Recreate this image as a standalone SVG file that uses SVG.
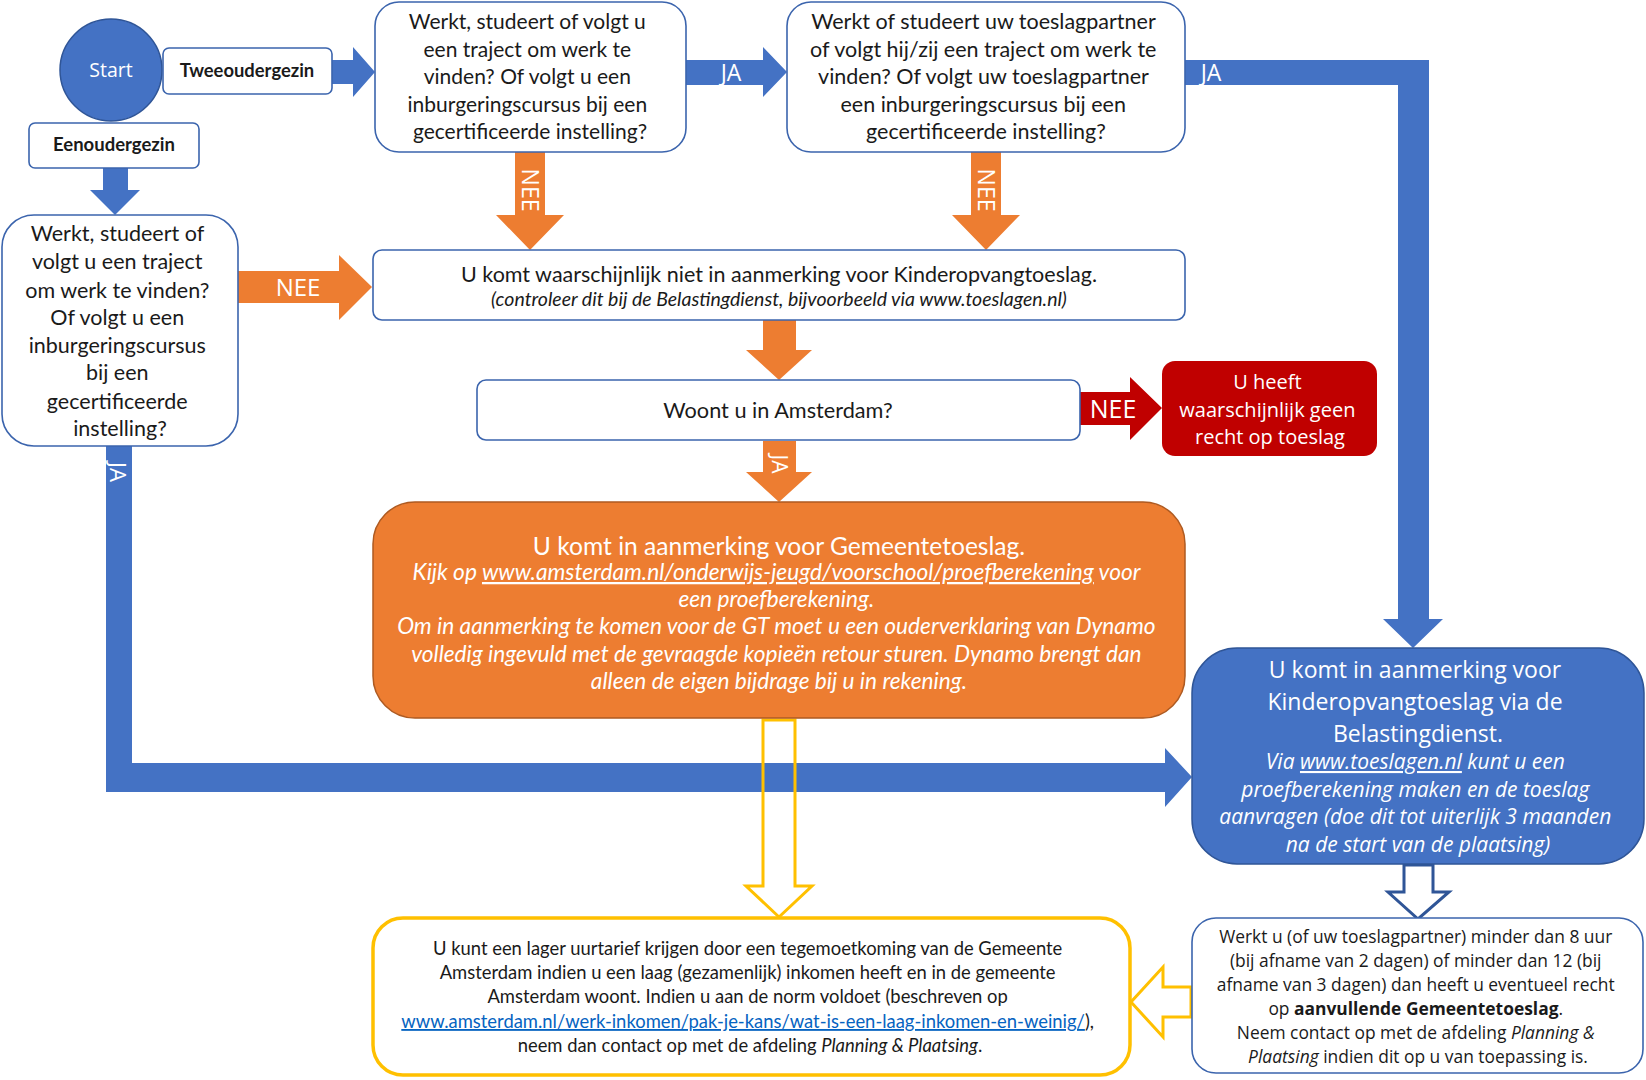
<svg xmlns="http://www.w3.org/2000/svg" width="1646" height="1080" viewBox="0 0 1646 1080">
<style>
.cal{font-family:Lato,"Liberation Sans",sans-serif;}
.seg{font-family:"Open Sans","DejaVu Sans",sans-serif;}
.dk{fill:#1a1a1a;}
.wh{fill:#ffffff;}
.box{fill:#ffffff;stroke:#3b64ad;stroke-width:1.6;}
.blue{fill:#4472C4;}
.orange{fill:#ED7D31;}
.c{text-anchor:middle;}
.it{font-style:italic;}
.b{font-weight:bold;}
.u{text-decoration:underline;}
</style>
<rect width="1646" height="1080" fill="#ffffff"/>

<g id="connectors">
  <polygon id="a-twee" class="blue" points="332,60 353,60 353,47 375,72 353,97 353,84 332,84"/>
  <polygon id="a-ja1" class="blue" points="686,60 763,60 763,47 787,72 763,97 763,85 686,85"/>
  <text class="seg wh c" x="731" y="81" font-size="23">JA</text>
  <path id="a-ja2" class="blue" d="M1185,60 H1429 V619 H1443 L1413,648 L1383,619 H1398 V85 H1185 Z"/>
  <text class="seg wh c" x="1211" y="81" font-size="23">JA</text>
  <polygon id="a-een" class="blue" points="103,168 128,168 128,190 140,190 115,215 90,190 103,190"/>
  <polygon id="a-nee1" class="orange" points="515,152 545,152 545,215 564,215 530,250 496,215 515,215"/>
  <text class="seg wh c" font-size="23" transform="translate(530,190) rotate(90)" y="8">NEE</text>
  <polygon id="a-nee2" class="orange" points="971,152 1001,152 1001,215 1020,215 986,250 952,215 971,215"/>
  <text class="seg wh c" font-size="23" transform="translate(986,190) rotate(90)" y="8">NEE</text>
  <polygon id="a-nee3" class="orange" points="238,271 339,271 339,255 372,287 339,320 339,303 238,303"/>
  <text class="seg wh c" x="298" y="296" font-size="24">NEE</text>
  <polygon id="a-down1" class="orange" points="763,320 796,320 796,350 812,350 779,380 746,350 763,350"/>
  <polygon id="a-nee4" fill="#C00000" points="1080,392 1130,392 1130,377 1162,408 1130,440 1130,425 1080,425"/>
  <text class="seg wh c" x="1113" y="418" font-size="25">NEE</text>
  <polygon id="a-ja3" class="orange" points="763,441 796,441 796,472 812,472 779,502 746,472 763,472"/>
  <text class="seg wh c" font-size="21" transform="translate(779,464) rotate(90)" y="7.5">JA</text>
  <path id="a-ja4" class="blue" d="M106,446 H132 V763 H1165 V748 L1192,777 L1165,807 V792 H106 Z"/>
  <text class="seg wh c" font-size="22" transform="translate(118,472) rotate(90)" y="8">JA</text>
  <polygon id="a-yel1" fill="none" stroke="#FFC000" stroke-width="3" points="763,720 795,720 795,886 812,886 779,917 746,886 763,886"/>
  <polygon id="a-blu2" fill="#ffffff" stroke="#2F5597" stroke-width="3" points="1404,865 1433,865 1433,892 1449,892 1418,919 1388,892 1404,892"/>
  <polygon id="a-yel2" fill="#ffffff" stroke="#FFC000" stroke-width="3" points="1191,987 1163,987 1163,967 1131,1002 1163,1037 1163,1017 1191,1017"/>
</g>

<g id="start">
  <circle cx="111" cy="70" r="51" fill="#4472C4" stroke="#2F5597" stroke-width="1.5"/>
  <text class="seg wh c" x="111" y="77" font-size="19.5">Start</text>
</g>

<g id="twee">
  <rect class="box" x="163" y="48" width="169" height="46" rx="6"/>
  <text class="cal dk c b" x="247" y="77" font-size="18.4">Tweeoudergezin</text>
</g>

<g id="een">
  <rect class="box" x="29" y="123" width="170" height="45" rx="6"/>
  <text class="cal dk c b" x="114" y="151" font-size="18.5">Eenoudergezin</text>
</g>

<g id="q1">
  <rect class="box" x="375" y="2" width="311" height="150" rx="24"/>
  <text class="cal dk c" font-size="21">
    <tspan x="530" y="29">Werkt, studeert of volgt u</tspan>
    <tspan x="530" y="56.5">een traject om werk te</tspan>
    <tspan x="530" y="84">vinden? Of volgt u een</tspan>
    <tspan x="530" y="111.5">inburgeringscursus bij een</tspan>
    <tspan x="530" y="139">gecertificeerde instelling?</tspan>
  </text>
</g>

<g id="q2">
  <rect class="box" x="787" y="2" width="398" height="150" rx="24"/>
  <text class="cal dk c" font-size="21.5">
    <tspan x="986" y="29">Werkt of studeert uw toeslagpartner</tspan>
    <tspan x="986" y="56.5">of volgt hij/zij een traject om werk te</tspan>
    <tspan x="986" y="84">vinden? Of volgt uw toeslagpartner</tspan>
    <tspan x="986" y="111.5">een inburgeringscursus bij een</tspan>
    <tspan x="986" y="139">gecertificeerde instelling?</tspan>
  </text>
</g>

<g id="q-een">
  <rect class="box" x="2" y="215" width="236" height="231" rx="32"/>
  <text class="cal dk c" font-size="21.5">
    <tspan x="120" y="241">Werkt, studeert of</tspan>
    <tspan x="120" y="269">volgt u een traject</tspan>
    <tspan x="120" y="298">om werk te vinden?</tspan>
    <tspan x="120" y="325">Of volgt u een</tspan>
    <tspan x="120" y="353">inburgeringscursus</tspan>
    <tspan x="120" y="380">bij een</tspan>
    <tspan x="120" y="409">gecertificeerde</tspan>
    <tspan x="120" y="436">instelling?</tspan>
  </text>
</g>

<g id="niet">
  <rect class="box" x="373" y="250" width="812" height="70" rx="9"/>
  <text class="cal dk c" x="779" y="282" font-size="21.5">U komt waarschijnlijk niet in aanmerking voor Kinderopvangtoeslag.</text>
  <text class="cal dk c it" x="779" y="306" font-size="19.5">(controleer dit bij de Belastingdienst, bijvoorbeeld via www.toeslagen.nl)</text>
</g>

<g id="woont">
  <rect class="box" x="477" y="380" width="603" height="60" rx="9"/>
  <text class="cal dk c" x="778" y="418" font-size="21.7">Woont u in Amsterdam?</text>
</g>

<g id="geen">
  <rect x="1162" y="361" width="215" height="95" rx="13" fill="#C00000"/>
  <text class="seg wh c" font-size="20">
    <tspan x="1270" y="389">U heeft</tspan>
    <tspan x="1270" y="417">waarschijnlijk geen</tspan>
    <tspan x="1270" y="444">recht op toeslag</tspan>
  </text>
</g>

<g id="gemeente">
  <rect x="373" y="502" width="812" height="216" rx="42" fill="#ED7D31" stroke="#AE5A21" stroke-width="1.5"/>
  <text class="cal wh c" x="779" y="555" font-size="24.6">U komt in aanmerking voor Gemeentetoeslag.</text>
  <text class="cal wh c it" font-size="22.7">
    <tspan x="779" y="580">Kijk op <tspan class="u">www.amsterdam.nl/onderwijs-jeugd/voorschool/proefberekening</tspan> voor</tspan>
    <tspan x="779" y="607">een proefberekening.</tspan>
    <tspan x="779" y="634">Om in aanmerking te komen voor de GT moet u een ouderverklaring van Dynamo</tspan>
    <tspan x="779" y="662">volledig ingevuld met de gevraagde kopieën retour sturen. Dynamo brengt dan</tspan>
    <tspan x="779" y="689">alleen de eigen bijdrage bij u in rekening.</tspan>
  </text>
</g>

<g id="kot">
  <rect x="1192" y="648" width="452" height="216" rx="45" fill="#4472C4" stroke="#2F5597" stroke-width="1.5"/>
  <text class="seg wh c" font-size="23">
    <tspan x="1418" y="678">U komt in aanmerking voor</tspan>
    <tspan x="1418" y="710">Kinderopvangtoeslag via de</tspan>
    <tspan x="1418" y="742">Belastingdienst.</tspan>
  </text>
  <text class="seg wh c it" font-size="21">
    <tspan x="1418" y="769">Via <tspan class="u">www.toeslagen.nl</tspan> kunt u een</tspan>
    <tspan x="1418" y="797">proefberekening maken en de toeslag</tspan>
    <tspan x="1418" y="824">aanvragen (doe dit tot uiterlijk 3 maanden</tspan>
    <tspan x="1418" y="852">na de start van de plaatsing)</tspan>
  </text>
</g>

<g id="aanvullend">
  <rect class="box" x="1192" y="918" width="451" height="155" rx="24"/>
  <text class="seg dk c" font-size="17.4">
    <tspan x="1418" y="943">Werkt u (of uw toeslagpartner) minder dan 8 uur</tspan>
    <tspan x="1418" y="967">(bij afname van 2 dagen) of minder dan 12 (bij</tspan>
    <tspan x="1418" y="991">afname van 3 dagen) dan heeft u eventueel recht</tspan>
    <tspan x="1418" y="1015">op <tspan class="b">aanvullende Gemeentetoeslag</tspan>.</tspan>
    <tspan x="1418" y="1039">Neem contact op met de afdeling <tspan class="it">Planning &amp;</tspan></tspan>
    <tspan x="1418" y="1063"><tspan class="it">Plaatsing</tspan> indien dit op u van toepassing is.</tspan>
  </text>
</g>

<g id="uurtarief">
  <rect x="373" y="918" width="757" height="157" rx="30" fill="#ffffff" stroke="#FFC000" stroke-width="3.5"/>
  <text class="cal dk c" font-size="18.4">
    <tspan x="750" y="955">U kunt een lager uurtarief krijgen door een tegemoetkoming van de Gemeente</tspan>
    <tspan x="750" y="979">Amsterdam indien u een laag (gezamenlijk) inkomen heeft en in de gemeente</tspan>
    <tspan x="750" y="1003">Amsterdam woont. Indien u aan de norm voldoet (beschreven op</tspan>
    <tspan x="750" y="1028"><tspan class="u" fill="#0563C1">www.amsterdam.nl/werk-inkomen/pak-je-kans/wat-is-een-laag-inkomen-en-weinig/</tspan>),</tspan>
    <tspan x="750" y="1052">neem dan contact op met de afdeling <tspan class="it">Planning &amp; Plaatsing</tspan>.</tspan>
  </text>
</g>
</svg>
